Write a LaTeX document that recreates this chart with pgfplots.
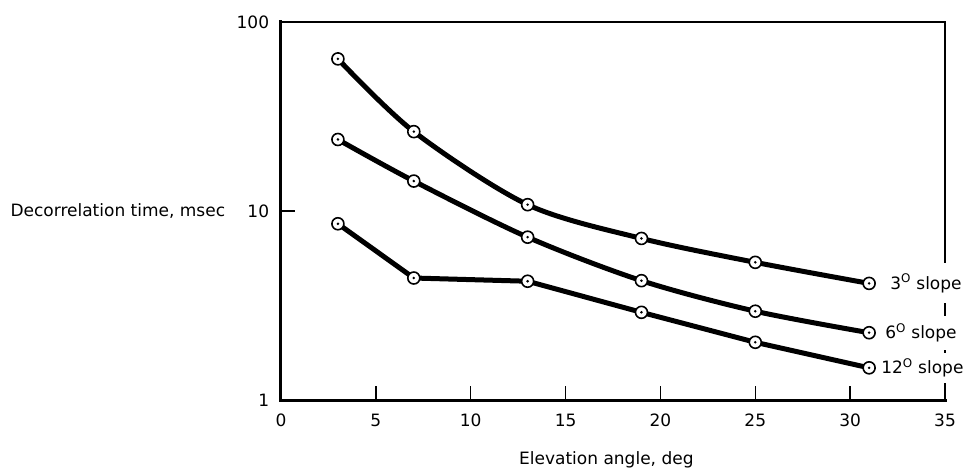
\documentclass[border=0pt]{standalone}
\usepackage{pgfplots}
\pgfplotsset{compat=1.18}
\usepackage{fontspec}
\setmainfont{DejaVu Sans}
\pgfdeclareplotmark{odot}{%
  \pgfsetfillcolor{white}%
  \pgfpathcircle{\pgfpointorigin}{\pgfplotmarksize}\pgfusepathqfillstroke
  \pgfsetfillcolor{black}%
  \pgfpathcircle{\pgfpointorigin}{1.4pt}\pgfusepathqfill}
\pgfplotsset{curve/.style={black, line width=5pt, mark=odot, mark size=6pt,
     mark options={line width=1.6pt, fill=white, draw=black, solid}}}
\begin{document}
\fontsize{17}{20}\selectfont
\begin{tikzpicture}
\path[use as bounding box] (-281pt,-72pt) rectangle (690pt,400pt);
\begin{axis}[
  scale only axis, width=664pt, height=378pt,
  xmin=0, xmax=35, ymode=log, ymin=1, ymax=100,
  xtick={0,5,...,35}, ytick={1,10,100},
  yticklabels={1,10,100},
  yminorticks=false,
  xtick pos=left, ytick pos=left, tick align=inside,
  major tick length=14pt,
  major tick style={line width=1.5pt, black},
  axis line style={line width=1.2pt},
  /pgf/number format/assume math mode=true,
  ticklabel style={font=\fontsize{17}{20}\selectfont},
  yticklabel style={xshift=-6pt},
  xticklabel style={yshift=-8pt},
  clip=false,
]
\addplot[curve, smooth, tension=0.5] coordinates {(3,63.8) (7,26.3) (13,10.8) (19,7.16) (25,5.35) (31,4.14)};
\addplot[curve, smooth, tension=0.5] coordinates {(3,23.9) (7,14.4) (13,7.27) (19,4.28) (25,2.95) (31,2.27)};
\addplot[curve, sharp plot] coordinates {(3,8.56) (7,4.42) (13,4.25) (19,2.91) (25,2.02) (31,1.48)};
\draw[line width=3pt, line cap=rect] (rel axis cs:0,1) -- (rel axis cs:0,0) -- (rel axis cs:1,0);
\node[anchor=west, fill=white, inner sep=1pt, minimum height=40pt] at (axis cs:31,4.14) [xshift=20pt] {3\textsuperscript{O} slope};
\node[anchor=west, fill=white, inner sep=1pt, minimum height=34pt] at (axis cs:31,2.27) [xshift=15pt] {6\textsuperscript{O} slope};
\node[anchor=west, fill=white, inner sep=1pt, minimum height=30pt] at (axis cs:31,1.48) [xshift=11pt] {12\textsuperscript{O} slope};
\node[anchor=east] at (rel axis cs:0,0.5) [xshift=-50pt] {Decorrelation time, msec};
\node at (rel axis cs:0.49,0) [yshift=-60pt] {Elevation angle, deg};
\end{axis}
\end{tikzpicture}
\end{document}
